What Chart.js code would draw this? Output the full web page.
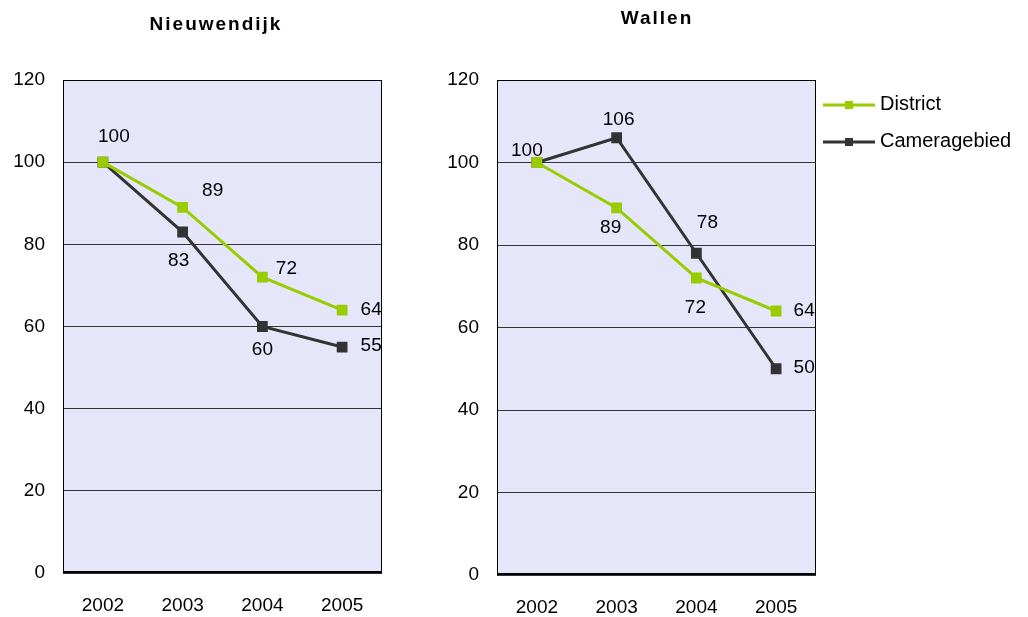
<!DOCTYPE html>
<html>
<head>
<meta charset="utf-8">
<script src="https://cdn.jsdelivr.net/npm/chart.js@4"></script>
<style>
  body { margin: 0; background: #fff; width: 1028px; height: 617px; overflow: hidden; position: relative; }
  .box { position: absolute; top: 0; height: 617px; }
  #left { left: 0; width: 420px; }
  #right { left: 420px; width: 608px; }
</style>
</head>
<body>
<div class="box" id="left"><canvas id="chartLeft"></canvas></div>
<div class="box" id="right"><canvas id="chartRight"></canvas></div>
<script>
// Data
const years = ['2002', '2003', '2004', '2005'];
const nieuwendijkDistrict = [100, 89, 72, 64];
const nieuwendijkCamera = [100, 83, 60, 55];
const wallenDistrict = [100, 89, 72, 64];
const wallenCamera = [100, 106, 78, 50];
const yTicks = [0, 20, 40, 60, 80, 100, 120];

const GREEN = '#99CC00';
const DARK = '#333333';
const FONT = "'Liberation Sans', Arial, sans-serif";

// plot background, border, title, value labels, legend
const decorPlugin = {
    id: 'decor',
    beforeDraw(chart, args, opts) {
        const a = chart.chartArea;
        const ctx = chart.ctx;
        ctx.save();
        ctx.fillStyle = '#E6E6FA';
        ctx.fillRect(a.left, a.top, a.right - a.left, a.bottom - a.top);
        ctx.restore();
    },
    afterDatasetsDraw(chart, args, opts) {
        const ctx = chart.ctx;
        const a = chart.chartArea;
        ctx.save();
        ctx.strokeStyle = '#000';
        ctx.lineWidth = 1;
        ctx.strokeRect(a.left + 0.5, a.top + 0.5, a.right - a.left - 1, a.bottom - a.top - 1);
        ctx.lineWidth = 2;
        ctx.beginPath();
        ctx.moveTo(a.left, a.bottom - 1);
        ctx.lineTo(a.right, a.bottom - 1);
        ctx.stroke();

        // title
        ctx.fillStyle = '#000';
        ctx.font = 'bold 19px ' + FONT;
        ctx.textAlign = 'center';
        ctx.textBaseline = 'middle';
        if ('letterSpacing' in ctx) ctx.letterSpacing = opts.titleSpacing + 'px';
        ctx.fillText(opts.title, opts.titleX, opts.titleY);
        if ('letterSpacing' in ctx) ctx.letterSpacing = '0px';

        // value labels
        ctx.font = '19px ' + FONT;
        chart.data.datasets.forEach((ds, i) => {
            const meta = chart.getDatasetMeta(i);
            const offs = opts.offsets[i];
            meta.data.forEach((pt, j) => {
                if (!offs[j]) return;
                ctx.fillText(String(ds.data[j]), pt.x + offs[j][0], pt.y + offs[j][1]);
            });
        });

        // legend
        if (opts.legend) {
            const lg = opts.legend;
            ctx.font = '20px ' + FONT;
            chart.data.datasets.forEach((ds, i) => {
                const y = lg.y + i * lg.gap;
                ctx.strokeStyle = ds.borderColor;
                ctx.lineWidth = 3;
                ctx.beginPath();
                ctx.moveTo(lg.x, y);
                ctx.lineTo(lg.x + 52, y);
                ctx.stroke();
                ctx.fillStyle = ds.borderColor;
                ctx.fillRect(lg.x + 22, y - 4, 8, 8);
                ctx.fillStyle = '#000';
                ctx.textAlign = 'left';
                ctx.fillText(ds.label, lg.x + 57, y - 1);
            });
        }
        ctx.restore();
    }
};

function lineSet(label, data, color) {
    return {
        label: label,
        data: data,
        borderColor: color,
        backgroundColor: color,
        borderWidth: 3,
        pointStyle: 'rect',
        pointRadius: 5.5,
        pointHoverRadius: 5.5,
        pointBorderColor: color,
        pointBackgroundColor: color,
        tension: 0
    };
}

function makeChart(canvasId, district, camera, pad, decor) {
    const canvas = document.getElementById(canvasId);
    return new Chart(canvas.getContext('2d'), {
        type: 'line',
        data: {
            labels: years,
            datasets: [
                lineSet('District', district, GREEN),
                lineSet('Cameragebied', camera, DARK)
            ]
        },
        options: {
            responsive: true,
            maintainAspectRatio: false,
            animation: false,
            events: [],
            layout: { padding: { top: pad.top, right: pad.right, left: 0, bottom: 0 } },
            plugins: {
                legend: { display: false },
                title: { display: false },
                tooltip: { enabled: false },
                decor: decor
            },
            scales: {
                x: {
                    offset: true,
                    grid: { display: false, drawTicks: false },
                    border: { display: false },
                    ticks: { color: '#000', font: { family: FONT, size: 19 }, padding: 21 },
                    afterFit(scale) { scale.height = pad.xHeight; }
                },
                y: {
                    min: 0,
                    max: 120,
                    afterBuildTicks(scale) { scale.ticks = yTicks.map(v => ({ value: v })); },
                    grid: { color: '#333', lineWidth: 1, drawTicks: false },
                    border: { display: false },
                    ticks: { color: '#000', font: { family: FONT, size: 19 }, padding: 18 },
                    afterFit(scale) { scale.width = pad.yWidth; }
                }
            }
        },
        plugins: [decorPlugin]
    });
}

makeChart('chartLeft', nieuwendijkDistrict, nieuwendijkCamera,
    { top: 80, right: 38, xHeight: 44, yWidth: 63 },
    {
        title: 'Nieuwendijk', titleX: 216, titleY: 25, titleSpacing: 2,
        offsets: [
            [[11, -25], [30, -17], [24, -8], [29, 0]],
            [null, [-4, 29], [0, 23], [29, -1]]
        ]
    });

makeChart('chartRight', wallenDistrict, wallenCamera,
    { top: 80, right: 212, xHeight: 42, yWidth: 77 },
    {
        title: 'Wallen', titleX: 237, titleY: 19, titleSpacing: 2,
        offsets: [
            [[-10, -12], [-6, 20], [-1, 30], [28, 0]],
            [null, [2, -18], [11, -30], [28, -1]]
        ],
        legend: { x: 403, y: 105, gap: 37 }
    });
</script>
</body>
</html>
